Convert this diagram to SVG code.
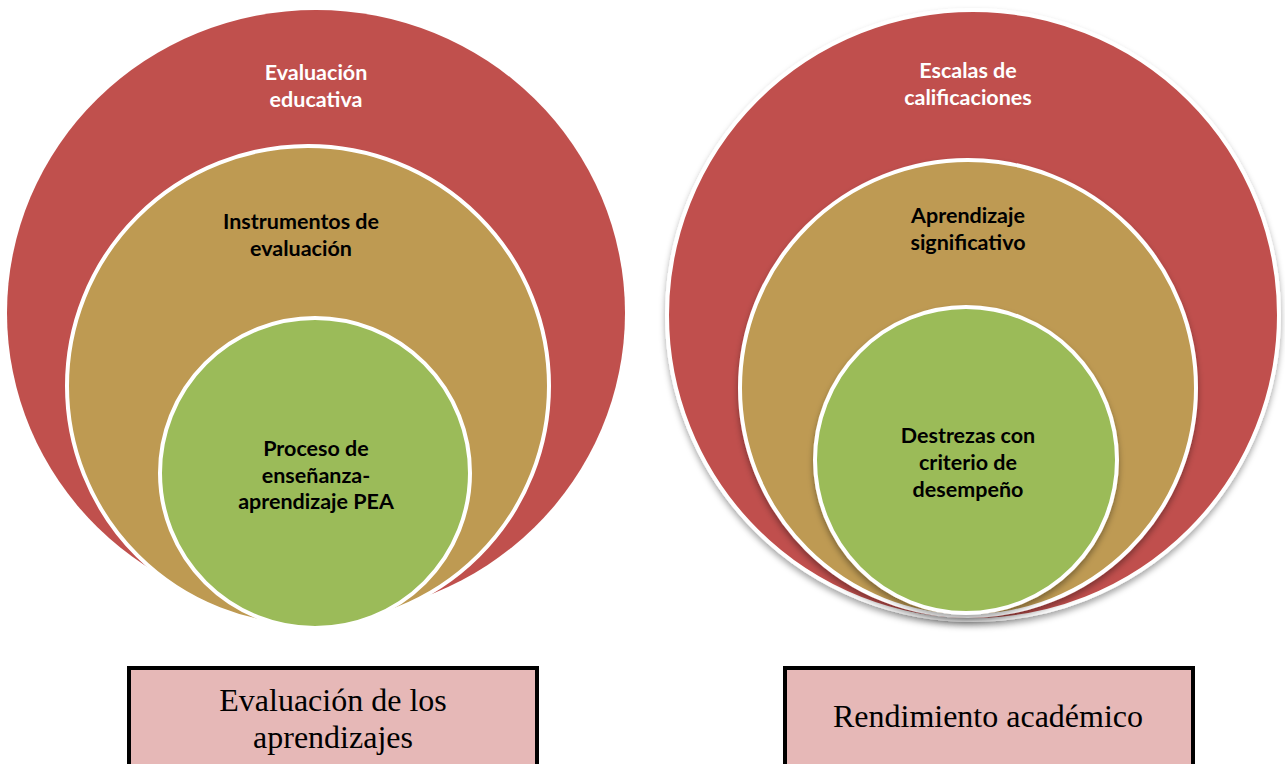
<svg xmlns="http://www.w3.org/2000/svg" width="1285" height="764" viewBox="0 0 1285 764">
<defs>
<style>
.red{fill:#C0504D}
.tan{fill:#BE9A52;stroke:#fff;stroke-width:4}
.grn{fill:#9BBB59;stroke:#fff;stroke-width:4}
.lbl{font-family:Lato,"Open Sans",sans-serif;font-weight:bold;font-size:21.5px;text-anchor:middle}
.w{fill:#fff}
.k{fill:#000}
.box{fill:#E6B8B7;stroke:#000;stroke-width:4}
.cap{font-family:"Liberation Serif",serif;font-size:32px;text-anchor:middle;fill:#000}
</style>
<filter id="sh" x="-10%" y="-10%" width="120%" height="125%">
<feDropShadow dx="0" dy="4" stdDeviation="3" flood-color="#000" flood-opacity="0.35"/>
</filter>
</defs>
<g id="left-outer">
<ellipse class="red" cx="316" cy="313" rx="309" ry="303"/>
<text class="lbl w" x="316" y="80">Evaluación</text>
<text class="lbl w" x="316" y="107">educativa</text>
</g>
<g id="left-middle">
<ellipse class="tan" cx="308" cy="386" rx="241" ry="240"/>
<text class="lbl k" x="301" y="229">Instrumentos de</text>
<text class="lbl k" x="301" y="256">evaluación</text>
</g>
<g id="left-inner">
<ellipse class="grn" cx="315" cy="473" rx="155" ry="155"/>
<text class="lbl k" x="316" y="456">Proceso de</text>
<text class="lbl k" x="316" y="483">enseñanza-</text>
<text class="lbl k" x="316" y="509">aprendizaje PEA</text>
</g>
<g id="right-outer">
<ellipse class="red" cx="973" cy="315" rx="306" ry="305" stroke="#fff" stroke-width="4" filter="url(#sh)"/>
<text class="lbl w" x="968" y="78">Escalas de</text>
<text class="lbl w" x="968" y="105">calificaciones</text>
</g>
<g id="right-middle">
<ellipse class="tan" cx="968" cy="388" rx="228" ry="228" filter="url(#sh)"/>
<text class="lbl k" x="968" y="223">Aprendizaje</text>
<text class="lbl k" x="968" y="250">significativo</text>
</g>
<g id="right-inner">
<ellipse class="grn" cx="966" cy="460" rx="151" ry="153" filter="url(#sh)"/>
<text class="lbl k" x="968" y="443">Destrezas con</text>
<text class="lbl k" x="968" y="470">criterio de</text>
<text class="lbl k" x="968" y="497">desempeño</text>
</g>
<g id="left-caption">
<rect class="box" x="129" y="668" width="408" height="110"/>
<text class="cap" x="333" y="711">Evaluación de los</text>
<text class="cap" x="333" y="748">aprendizajes</text>
</g>
<g id="right-caption">
<rect class="box" x="785" y="668" width="408" height="110"/>
<text class="cap" x="988" y="727">Rendimiento académico</text>
</g>
<g id="connectors"></g>
</svg>
